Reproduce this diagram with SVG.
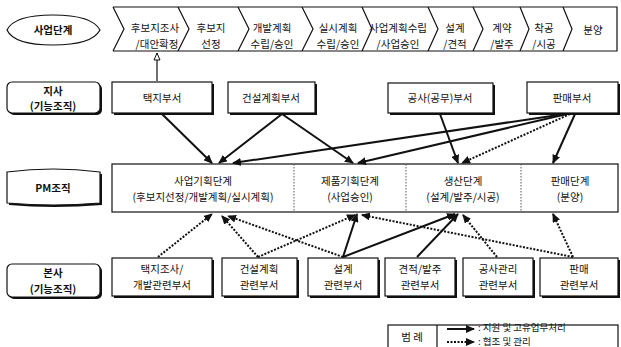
<svg xmlns="http://www.w3.org/2000/svg" width="621" height="347" viewBox="0 0 621 347">
<style>
text{font-family:"Noto Sans CJK KR","Noto Sans",sans-serif;font-size:10.5px;fill:#111;text-anchor:middle}
.b{font-weight:bold}
.lg{font-size:9.5px;text-anchor:start}
.box{fill:#fff;stroke:#111;stroke-width:1.2}
.sh{fill:#111}
.lbl{fill:#fff;stroke:#111;stroke-width:1.2}
.s{stroke:#111;stroke-width:2;fill:none}
.d{stroke:#111;stroke-width:2;fill:none;stroke-dasharray:2 1.5}
.ln{stroke:#111;stroke-width:1.2;fill:none}
.dv{stroke:#555;stroke-width:1;stroke-dasharray:1.5 1.5}
</style>
<defs>
<marker id="ah" markerWidth="9" markerHeight="8" refX="8" refY="4" orient="auto" markerUnits="userSpaceOnUse"><path d="M0,0 L9,4 L0,8 Z" fill="#111"/></marker>
<marker id="oh" markerWidth="9" markerHeight="8" refX="8" refY="4" orient="auto" markerUnits="userSpaceOnUse"><path d="M1,1 L8,4 L1,7 Z" fill="#fff" stroke="#111" stroke-width="1"/></marker>
</defs>
<rect width="621" height="347" fill="#fff"/>

<g id="stage-label">
<path d="M7,30 Q14,15 53,15 Q92,15 100,30 Q92,45 53,45 Q14,45 7,30 Z" class="lbl"/>
<text x="53" y="34" class="b">사업단계</text>
</g>

<g id="stages">
<path d="M113,7 L617,7 L617,51 L113,51" class="ln"/>
<path d="M113,7 L124,29 L113,51 M178,7 L189,29 L178,51 M238,7 L249,29 L238,51 M302,7 L313,29 L302,51 M362,7 L372,29 L362,51 M428,7 L438,29 L428,51 M473,7 L483,29 L473,51 M520,7 L529,29 L520,51 M563,7 L572,29 L563,51" class="ln"/>
<text x="155" y="32">후보지조사</text><text x="157" y="47.5">/대안확정</text>
<text x="211" y="32">후보지</text><text x="211" y="47.5">선정</text>
<text x="272" y="32">개발계획</text><text x="272" y="47.5">수립/승인</text>
<text x="338" y="32">실시계획</text><text x="338" y="47.5">수립/승인</text>
<text x="398" y="32">사업계획수립</text><text x="398" y="47.5">/사업승인</text>
<text x="455" y="32">설계</text><text x="455" y="47.5">/견적</text>
<text x="502" y="32">계약</text><text x="502" y="47.5">/발주</text>
<text x="544" y="32">착공</text><text x="544" y="47.5">/시공</text>
<text x="593" y="34">분양</text>
</g>

<g id="branch-label">
<rect x="9" y="84" width="93" height="31" rx="5" class="sh"/>
<rect x="7" y="82" width="93" height="31" rx="5" class="lbl"/>
<text x="53" y="94.5" class="b">지사</text><text x="53" y="110" class="b">(기능조직)</text>
</g>
<g id="b-land">
<rect x="114" y="84" width="100" height="31" class="sh"/>
<rect x="112" y="82" width="100" height="31" class="box"/>
<text x="162" y="102">택지부서</text>
</g>
<g id="b-plan">
<rect x="230" y="84" width="87" height="31" class="sh"/>
<rect x="228" y="82" width="87" height="31" class="box"/>
<text x="271" y="102">건설계획부서</text>
</g>
<g id="b-works">
<rect x="390" y="85" width="105" height="30" class="sh"/>
<rect x="388" y="83" width="105" height="30" class="box"/>
<text x="440" y="102">공사(공무)부서</text>
</g>
<g id="b-sales">
<rect x="529" y="84" width="91" height="31" class="sh"/>
<rect x="527" y="82" width="91" height="31" class="box"/>
<text x="572" y="102">판매부서</text>
</g>

<g id="pm-label">
<path d="M9,174 Q53,168 102,174 L102,205 Q53,209 9,205 Z" class="sh"/>
<path d="M7,172 Q53,166 100,172 L100,203 Q53,207 7,203 Z" class="lbl"/>
<text x="53" y="192" class="b">PM조직</text>
</g>
<g id="pm-org">
<rect x="112" y="164" width="506" height="48" class="box"/>
<line x1="294" y1="164" x2="294" y2="212" class="dv"/>
<line x1="406" y1="164" x2="406" y2="212" class="dv"/>
<line x1="521" y1="164" x2="521" y2="212" class="dv"/>
<text x="203" y="185">사업기획단계</text><text x="203" y="201">(후보지선정/개발계획/실시계획)</text>
<text x="350" y="185">제품기획단계</text><text x="350" y="201">(사업승인)</text>
<text x="463" y="185">생산단계</text><text x="463" y="201">(설계/발주/시공)</text>
<text x="570" y="185">판매단계</text><text x="570" y="201">(분양)</text>
</g>

<g id="hq-label">
<rect x="9" y="266" width="93" height="33" rx="5" class="sh"/>
<rect x="7" y="264" width="93" height="33" rx="5" class="lbl"/>
<text x="53" y="277" class="b">본사</text><text x="53" y="293" class="b">(기능조직)</text>
</g>
<g id="h-land">
<rect x="114" y="260" width="100" height="38" class="sh"/>
<rect x="112" y="258" width="100" height="38" class="box"/>
<text x="162" y="273">택지조사/</text><text x="162" y="289">개발관련부서</text>
</g>
<g id="h-plan">
<rect x="224" y="260" width="75" height="38" class="sh"/>
<rect x="222" y="258" width="75" height="38" class="box"/>
<text x="259" y="273">건설계획</text><text x="259" y="289">관련부서</text>
</g>
<g id="h-design">
<rect x="310" y="260" width="70" height="38" class="sh"/>
<rect x="308" y="258" width="70" height="38" class="box"/>
<text x="343" y="273">설계</text><text x="343" y="289">관련부서</text>
</g>
<g id="h-estimate">
<rect x="387" y="260" width="70" height="38" class="sh"/>
<rect x="385" y="258" width="70" height="38" class="box"/>
<text x="420" y="273">견적/발주</text><text x="420" y="289">관련부서</text>
</g>
<g id="h-works">
<rect x="465" y="260" width="70" height="38" class="sh"/>
<rect x="463" y="258" width="70" height="38" class="box"/>
<text x="498" y="273">공사관리</text><text x="498" y="289">관련부서</text>
</g>
<g id="h-sales">
<rect x="542" y="260" width="78" height="38" class="sh"/>
<rect x="540" y="258" width="78" height="38" class="box"/>
<text x="579" y="273">판매</text><text x="579" y="289">관련부서</text>
</g>

<g id="connectors">
<line x1="157" y1="81" x2="157" y2="53" class="ln" marker-end="url(#oh)"/>
<line x1="162" y1="114" x2="212" y2="163" class="s" marker-end="url(#ah)"/>
<line x1="282" y1="114" x2="219" y2="163" class="s" marker-end="url(#ah)"/>
<line x1="282" y1="114" x2="353" y2="163" class="s" marker-end="url(#ah)"/>
<line x1="565" y1="114" x2="233" y2="163" class="s" marker-end="url(#ah)"/>
<line x1="567" y1="114" x2="358" y2="163" class="s" marker-end="url(#ah)"/>
<line x1="440" y1="114" x2="458" y2="163" class="s" marker-end="url(#ah)"/>
<line x1="570" y1="114" x2="462" y2="163" class="d" marker-end="url(#ah)"/>
<line x1="575" y1="114" x2="553" y2="163" class="s" marker-end="url(#ah)"/>

<line x1="158" y1="257" x2="212" y2="214" class="d" marker-end="url(#ah)"/>
<line x1="258" y1="257" x2="222" y2="216" class="d" marker-end="url(#ah)"/>
<line x1="258" y1="257" x2="355" y2="215" class="d" marker-end="url(#ah)"/>
<line x1="343" y1="257" x2="228" y2="216" class="d" marker-end="url(#ah)"/>
<line x1="343" y1="257" x2="357" y2="214" class="s" marker-end="url(#ah)"/>
<line x1="343" y1="257" x2="455" y2="214" class="s" marker-end="url(#ah)"/>
<line x1="417" y1="257" x2="458" y2="214" class="s" marker-end="url(#ah)"/>
<line x1="497" y1="257" x2="463" y2="215" class="d" marker-end="url(#ah)"/>
<line x1="573" y1="257" x2="362" y2="215" class="d" marker-end="url(#ah)"/>
<line x1="573" y1="257" x2="553" y2="214" class="d" marker-end="url(#ah)"/>
</g>

<g id="legend">
<rect x="388" y="325" width="230" height="26" class="box"/>
<line x1="437" y1="325" x2="437" y2="351" class="ln"/>
<text x="412" y="341">범 례</text>
<line x1="447" y1="329" x2="474" y2="329" class="s" marker-end="url(#ah)"/>
<text x="478" y="331" class="lg">: 지원 및 고유업무처리</text>
<line x1="447" y1="342" x2="474" y2="342" class="d" marker-end="url(#ah)"/>
<text x="478" y="344.5" class="lg">: 협조 및 관리</text>
</g>
</svg>
